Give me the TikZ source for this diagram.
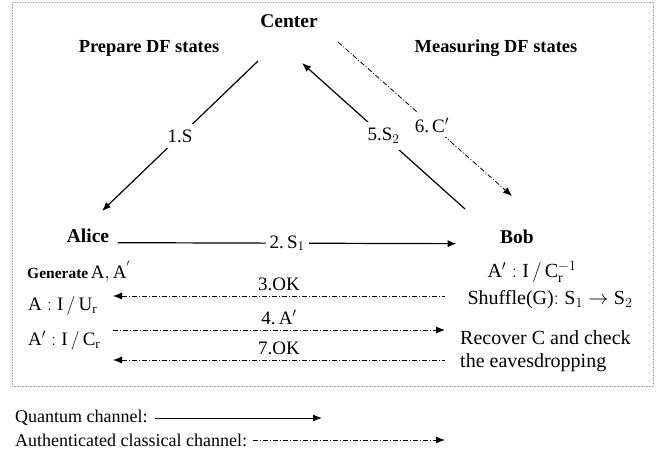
\documentclass[tikz,border=0pt]{standalone}
\usepackage{fix-cm}
\usepackage{fontspec}
\setmainfont{Liberation Serif}
\usetikzlibrary{arrows.meta}

\tikzset{
  qline/.style={line width=1.2pt},
  cline/.style={line width=0.8pt,dash pattern=on 5pt off 2pt on 1pt off 2pt},
  lbl/.style={font=\fontsize{19}{22}\selectfont,inner sep=2pt},
  rlbl/.style={font=\fontsize{20}{23}\selectfont,inner sep=2pt},
  party/.style={font=\fontsize{19.5}{22}\selectfont\bfseries},
  phase/.style={font=\fontsize{18.4}{21}\selectfont\bfseries},
  legend/.style={font=\fontsize{18}{21}\selectfont,anchor=west,inner sep=1pt},
}

\begin{document}
\begin{tikzpicture}[x=1pt,y=-1pt,>={Latex[length=9pt,width=7pt]}]
\useasboundingbox (0,0) rectangle (665,456);
\draw[gray!70,densely dotted,line width=0.6pt] (12,2) rectangle (653,386);

% parties
\node[party] (C) at (289,21) {Center};
\node[party] (A) at (88,236) {Alice};
\node[party] (B) at (517,237) {Bob};
\node[phase] (prep) at (149,48) {Prepare DF states};
\node[phase] (meas) at (496,48) {Measuring DF states};

\coordinate (c1) at (258,61);
\coordinate (a1) at (102,211);
\coordinate (b5) at (465,209);
\coordinate (c5) at (302,63);
\coordinate (c6) at (338,42);
\coordinate (b6) at (512,196);

\draw[qline,->] (c1) -- node[lbl,fill=white,inner sep=6pt] {1.S} (a1);
\draw[qline,->] ([xshift=5pt]A.base east) -- node[lbl,fill=white,inner sep=4pt] {2.\,$\mathrm{S}_1$} ([xshift=-40pt]B.base west);
\draw[qline,->] (b5) -- node[lbl,fill=white,inner sep=6pt] {5.$\mathrm{S}_2$} (c5);
\draw[cline,->] (c6) -- node[pos=0.54,lbl,fill=white,inner sep=5pt] {6.\,$\mathrm{C}'$} (b6);

% Alice side
\node[anchor=west,inner sep=0pt] (gen) at (27,272) {{\fontsize{15.5}{18}\selectfont\bfseries Generate} {\fontsize{19}{22}\selectfont$\mathrm{A},\mathrm{A}^{'}$}};
\node[lbl,anchor=west] (Ur) at (26,306) {$\mathrm{A}:\mathrm{I}\,/\,\mathrm{U}_{\mathrm{r}}$};
\node[lbl,anchor=west] (Cr) at (26,341) {$\mathrm{A}':\mathrm{I}\,/\,\mathrm{C}_{\mathrm{r}}$};

% Bob side
\node[rlbl] (Cinv) at (532,272) {$\mathrm{A}':\mathrm{I}\,/\,\mathrm{C}_{\mathrm{r}}^{-1}$};
\node[rlbl] (shuf) at (550,300) {Shuffle(G)$:\mathrm{S}_1\rightarrow\mathrm{S}_2$};
\node[rlbl,anchor=west,align=left] (rec) at (458,351) {Recover C and check\\the eavesdropping};

% classical messages
\foreach \y/\lab/\dir [count=\i] in {296/3.OK/<-,330/{4.\,$\mathrm{A}'$}/->,360/7.OK/<-} {
  \coordinate (l\i) at (113,\y);
  \coordinate (r\i) at (445,\y);
  \draw[cline,\dir] (l\i) -- node[lbl,above=3pt] {\lab} (r\i);
}

% legend
\node[legend] (qch) at (14,418) {Quantum channel:};
\node[legend] (cch) at (14,440) {Authenticated classical channel:};
\coordinate (qtip) at (322,421);
\coordinate (ctip) at (445,441);
\draw[line width=1pt,->] ([xshift=6pt]qch.east) -- (qch.east -| qtip);
\draw[cline,->] ([xshift=5pt]cch.east) -- (cch.east -| ctip);
\end{tikzpicture}
\end{document}
